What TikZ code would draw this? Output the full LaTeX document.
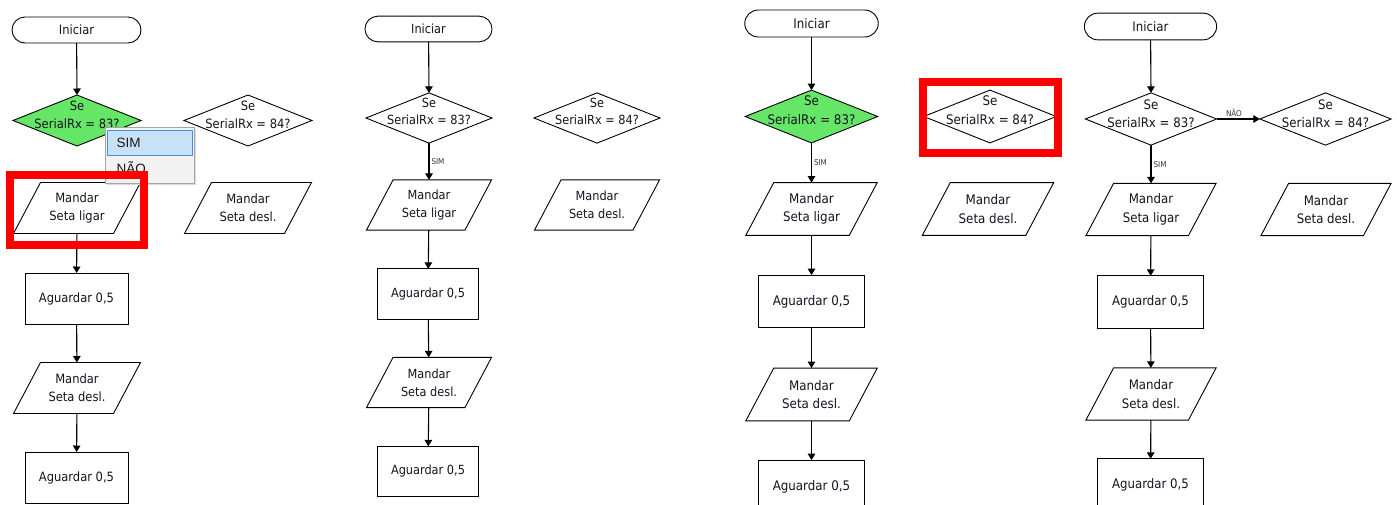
\documentclass[tikz,border=0pt]{standalone}
\usepackage{fontspec}
\setmainfont{DejaVu Sans Condensed}
\newfontfamily\menufont{Liberation Sans}
\usetikzlibrary{shapes.geometric,arrows.meta}

\definecolor{decgreen}{RGB}{102,230,102}
\definecolor{txt}{RGB}{20,20,34}
\definecolor{menubg}{RGB}{242,242,242}
\definecolor{menuedge}{RGB}{165,165,165}
\definecolor{hlfill}{RGB}{200,225,247}
\definecolor{hledge}{RGB}{70,145,220}

% per-column size factor and text size
\def\Sc{1}
\def\panelfont{\fontsize{12.8}{18}\selectfont}

% outline of an input/output block around an (invisible) body node
\newcommand\ioframe[1]{%
  \draw[line width=0.9pt]
    ([xshift=\Sc*13.5pt]#1.north west) -- ([xshift=\Sc*13.5pt]#1.north east) --
    ([xshift=-\Sc*13.5pt]#1.south east) -- ([xshift=-\Sc*13.5pt]#1.south west) -- cycle;}

\tikzset{
  base/.style={draw=black, line width=0.9pt, inner sep=0pt, outer sep=0pt, text=txt, font=\panelfont},
  term/.style={base, rectangle, rounded corners=\Sc*13pt, minimum width=\Sc*129pt, minimum height=\Sc*26pt},
  dia/.style={base, diamond, fill=white, minimum width=\Sc*128pt, minimum height=\Sc*51pt},
  dtext/.style={inner sep=0pt, text=txt, font=\panelfont, align=center},
  io/.style={inner sep=0pt, outer sep=0pt, text=txt, font=\panelfont, align=center,
             minimum width=\Sc*100pt, minimum height=\Sc*51pt},
  proc/.style={base, rectangle, minimum width=\Sc*103pt, minimum height=\Sc*51pt},
  arr/.style={draw=black, line width=1.1pt, -{Triangle[width=7.5pt,length=6.5pt]}},
  lbl/.style={font=\fontsize{8}{9}\selectfont, text=black!80, inner sep=1pt},
  menuitem/.style={font=\menufont\fontsize{13.5}{15}\selectfont, text=black!90, inner sep=0pt},
  redframe/.style={draw=red, line width=8pt, inner sep=0pt},
}

\begin{document}
\begin{tikzpicture}[x=1pt,y=-1pt]
\useasboundingbox (0,0) rectangle (1397,504);

% ---------------- column 1 ----------------
\def\Sc{1}
\def\panelfont{\fontsize{12.8}{18}\selectfont}
\node[term] (ini1) at (76.5,30) {Iniciar};
\node[dia, fill=decgreen] (d1) at (77,120.5) {};
\node[dtext] (d1t) at (77,114.5) {Se\\SerialRx = 83?};
\node[io] (p1) at (77,208) {Mandar\\Seta ligar}; \ioframe{p1}
\node[proc] (r1) at (76.5,298.5) {Aguardar 0,5};
\node[io] (q1) at (77,388) {Mandar\\Seta desl.}; \ioframe{q1}
\node[proc] (s1) at (76.5,477.5) {Aguardar 0,5};
\node[dia] (e1) at (248,120.5) {};
\node[dtext] (e1t) at (248,114.5) {Se\\SerialRx = 84?};
\node[io] (f1) at (248,208) {Mandar\\Seta desl.}; \ioframe{f1}
\draw[arr] (ini1) -- (d1.north);
\draw[arr] (p1) -- (r1);
\draw[arr] (r1) -- (q1);
\draw[arr] (q1) -- (s1);

% pop-up choice menu
\node[fill=black!15, minimum width=89pt, minimum height=56pt, inner sep=0pt] (menushade) at (151.5,157) {};
\node[draw=menuedge, fill=menubg, line width=0.8pt, minimum width=89pt, minimum height=56pt, inner sep=0pt] (menu) at (149.5,155) {};
\node[draw=hledge, fill=hlfill, line width=0.8pt, minimum width=85pt, minimum height=25pt, inner sep=0pt] (menusel) at (149.5,142.5) {};
\node[menuitem, anchor=west] (msim) at (116.5,142.5) {SIM};
\node[menuitem, anchor=west] (mnao) at (116.5,167.5) {NÃO};
\node[redframe, minimum width=134pt, minimum height=70pt] (mark1) at (77,210) {};

% ---------------- column 2 ----------------
\def\Sc{0.985}
\def\panelfont{\fontsize{12.6}{17.7}\selectfont}
\node[term] (ini2) at (428.5,29) {Iniciar};
\node[dia] (d2) at (429,118) {};
\node[dtext] (d2t) at (429,111.5) {Se\\SerialRx = 83?};
\node[io] (p2) at (429,205) {Mandar\\Seta ligar}; \ioframe{p2}
\node[proc] (r2) at (428,294) {Aguardar 0,5};
\node[io] (q2) at (429,382.5) {Mandar\\Seta desl.}; \ioframe{q2}
\node[proc] (s2) at (428,471.5) {Aguardar 0,5};
\node[dia] (e2) at (597,118) {};
\node[dtext] (e2t) at (597,111.5) {Se\\SerialRx = 84?};
\node[io] (f2) at (597,205) {Mandar\\Seta desl.}; \ioframe{f2}
\draw[arr] (ini2) -- (d2.north);
\draw[arr] (d2.south) -- node[lbl, right, xshift=1pt] (l2) {SIM} (p2);
\draw[arr] (p2) -- (r2);
\draw[arr] (r2) -- (q2);
\draw[arr] (q2) -- (s2);

% ---------------- column 3 ----------------
\def\Sc{1.035}
\def\panelfont{\fontsize{13.2}{18.6}\selectfont}
\node[term] (ini3) at (811.5,23.5) {Iniciar};
\node[dia, fill=decgreen] (d3) at (811.5,116.5) {};
\node[dtext] (d3t) at (811.5,110) {Se\\SerialRx = 83?};
\node[io] (p3) at (811.5,209) {Mandar\\Seta ligar}; \ioframe{p3}
\node[proc] (r3) at (811.5,301.5) {Aguardar 0,5};
\node[io] (q3) at (811.5,394.5) {Mandar\\Seta desl.}; \ioframe{q3}
\node[proc] (s3) at (811.5,486.5) {Aguardar 0,5};
\node[dia] (e3) at (990,116.5) {};
\node[dtext] (e3t) at (990,110) {Se\\SerialRx = 84?};
\node[io] (f3) at (988,209) {Mandar\\Seta desl.}; \ioframe{f3}
\draw[arr] (ini3) -- (d3.north);
\draw[arr] (d3.south) -- node[lbl, right, xshift=1pt] (l3) {SIM} (p3);
\draw[arr] (p3) -- (r3);
\draw[arr] (r3) -- (q3);
\draw[arr] (q3) -- (s3);
\node[redframe, minimum width=135pt, minimum height=71pt] (mark3) at (990.5,117.5) {};

% ---------------- column 4 ----------------
\def\Sc{1.025}
\def\panelfont{\fontsize{13.1}{18.4}\selectfont}
\node[term] (ini4) at (1150.5,26.5) {Iniciar};
\node[dia] (d4) at (1151,119) {};
\node[dtext] (d4t) at (1151,113.5) {Se\\SerialRx = 83?};
\node[io] (p4) at (1151,209.5) {Mandar\\Seta ligar}; \ioframe{p4}
\node[proc] (r4) at (1150.5,302) {Aguardar 0,5};
\node[io] (q4) at (1151,394) {Mandar\\Seta desl.}; \ioframe{q4}
\node[proc] (s4) at (1150.5,485) {Aguardar 0,5};
\node[dia] (e4) at (1325.5,119) {};
\node[dtext] (e4t) at (1325.5,113.5) {Se\\SerialRx = 84?};
\node[io] (f4) at (1326,209.5) {Mandar\\Seta desl.}; \ioframe{f4}
\draw[arr] (ini4) -- (d4.north);
\draw[arr] (d4.south) -- node[lbl, right, xshift=1pt] (l4) {SIM} (p4);
\draw[arr] (d4.east) -- node[lbl, above, pos=0.4, yshift=0.5pt] (n4) {NÃO} (e4.west);
\draw[arr] (p4) -- (r4);
\draw[arr] (r4) -- (q4);
\draw[arr] (q4) -- (s4);
\end{tikzpicture}
\end{document}
